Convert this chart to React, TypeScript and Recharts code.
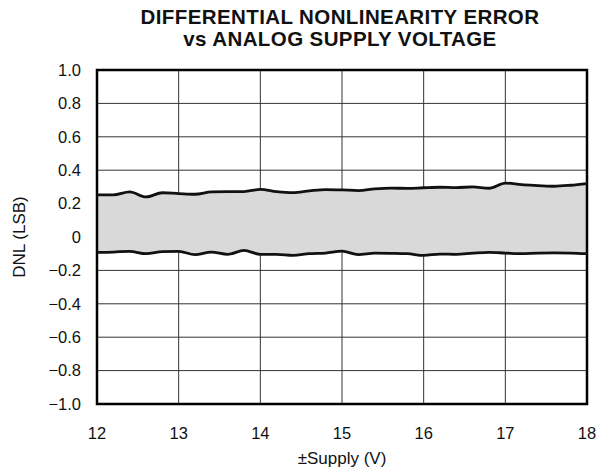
import React from 'react';
import {
  ComposedChart,
  Area,
  Line,
  XAxis,
  YAxis,
  CartesianGrid,
  ReferenceArea,
} from 'recharts';

const supplyVolts = [
  12.0, 12.2, 12.4, 12.6, 12.8, 13.0, 13.2, 13.4, 13.6, 13.8,
  14.0, 14.2, 14.4, 14.6, 14.8, 15.0, 15.2, 15.4, 15.6, 15.8,
  16.0, 16.2, 16.4, 16.6, 16.8, 17.0, 17.2, 17.4, 17.6, 17.8, 18.0,
];

const dnlMax = [
  0.252, 0.252, 0.27, 0.24, 0.265, 0.26, 0.256, 0.27, 0.272, 0.272,
  0.285, 0.272, 0.266, 0.276, 0.284, 0.282, 0.278, 0.288, 0.293, 0.291,
  0.295, 0.298, 0.296, 0.3, 0.292, 0.323, 0.313, 0.308, 0.304, 0.31, 0.32,
];

const dnlMin = [
  -0.092, -0.09, -0.086, -0.1, -0.088, -0.086, -0.106, -0.09, -0.104, -0.08,
  -0.104, -0.104, -0.11, -0.1, -0.096, -0.085, -0.106, -0.097, -0.098, -0.1,
  -0.11, -0.102, -0.104, -0.097, -0.092, -0.096, -0.1, -0.096, -0.095, -0.096, -0.1,
];

const xTicks = [12, 13, 14, 15, 16, 17, 18];
const yTicks = [-1, -0.8, -0.6, -0.4, -0.2, 0, 0.2, 0.4, 0.6, 0.8, 1];

const data = supplyVolts.map((v, i) => ({
  v,
  upper: dnlMax[i],
  lower: dnlMin[i],
}));

const font = '"Liberation Sans", Arial, Helvetica, sans-serif';

const fmtY = (val: number) => {
  if (val === 0) return '0';
  const s = Math.abs(val).toFixed(1);
  return val < 0 ? `\u2212${s}` : s;
};

export default function App() {
  return (
    <div
      style={{
        position: 'absolute',
        left: 0,
        top: 0,
        width: 613,
        height: 470,
        background: '#fff',
        fontFamily: font,
      }}
    >
      <div
        style={{
          position: 'absolute',
          left: 0,
          width: 680,
          top: 6,
          textAlign: 'center',
          fontWeight: 'bold',
          fontSize: 20.5,
          letterSpacing: 0.4,
          lineHeight: '22px',
          color: '#111',
        }}
      >
        DIFFERENTIAL NONLINEARITY ERROR
        <br />
        vs ANALOG SUPPLY VOLTAGE
      </div>
      <ComposedChart
        width={613}
        height={470}
        data={data}
        margin={{ top: 70, right: 26, bottom: 0, left: 0 }}
      >
        <XAxis
          dataKey="v"
          type="number"
          domain={[12, 18]}
          ticks={xTicks}
          axisLine={false}
          tickLine={false}
          tickSize={0}
          tickMargin={23}
          height={66}
          tick={{ fill: '#111', fontSize: 16.5, fontFamily: font }}
          label={{
            value: '\u00B1Supply (V)',
            position: 'insideBottom',
            offset: 6,
            fill: '#111',
            fontSize: 17,
            fontFamily: font,
          }}
        />
        <YAxis
          type="number"
          domain={[-1, 1]}
          ticks={yTicks}
          tickFormatter={fmtY}
          axisLine={false}
          tickLine={false}
          tickSize={0}
          tickMargin={16}
          width={97}
          tick={{ fill: '#111', fontSize: 16.5, fontFamily: font }}
          label={{
            value: 'DNL (LSB)',
            angle: -90,
            position: 'insideLeft',
            offset: 19,
            style: { textAnchor: 'middle' },
            fill: '#111',
            fontSize: 17,
            fontFamily: font,
          }}
        />
        <Area
          dataKey={(d: { lower: number; upper: number }) => [d.lower, d.upper]}
          type="linear"
          fill="#d9d9d9"
          fillOpacity={1}
          stroke="none"
          isAnimationActive={false}
        />
        <CartesianGrid
          stroke="#333"
          strokeWidth={1}
          horizontalValues={yTicks}
          verticalValues={xTicks}
        />
        <Line
          dataKey="upper"
          type="monotone"
          stroke="#111"
          strokeWidth={2.8}
          dot={false}
          isAnimationActive={false}
        />
        <Line
          dataKey="lower"
          type="monotone"
          stroke="#111"
          strokeWidth={2.8}
          dot={false}
          isAnimationActive={false}
        />
        <ReferenceArea
          x1={12}
          x2={18}
          y1={-1}
          y2={1}
          fill="none"
          stroke="#000"
          strokeWidth={2.5}
          ifOverflow="visible"
        />
      </ComposedChart>
    </div>
  );
}
